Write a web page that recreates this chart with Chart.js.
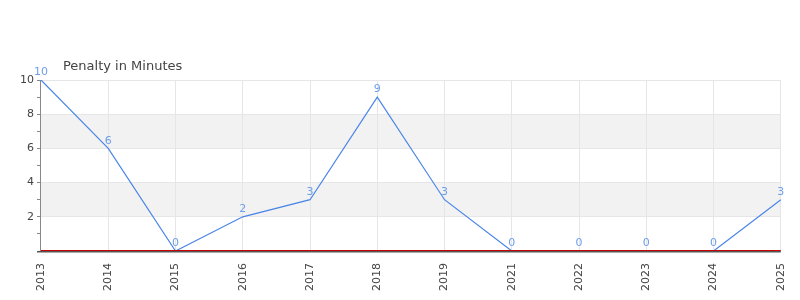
<!DOCTYPE html>
<html><head><meta charset="utf-8">
<script src="https://cdn.jsdelivr.net/npm/chart.js@4/dist/chart.umd.min.js"></script>
<style>html,body{margin:0;padding:0;background:#fff}#wrap{width:800px;height:300px}</style>
</head><body><div id="wrap"><canvas id="c" width="800" height="300"></canvas></div>
<script>
const categories = ["2013","2014","2015","2016","2017","2018","2019","2021","2022","2023","2024","2025"];
const penaltyMinutes = [10,6,0,2,3,9,3,0,0,0,0,3];
const yTickLabels = [2,4,6,8,10];
const bands = [[2,4],[6,8]];
const titleText = "Penalty in Minutes";

const FONT = "'DejaVu Sans', sans-serif";

const bgPlugin = {
  id: 'bg',
  beforeDraw(chart) {
    const {ctx, chartArea: a, scales: {y}} = chart;
    ctx.save();
    ctx.fillStyle = '#f2f2f2';
    bands.forEach(([lo, hi]) => {
      const y1 = y.getPixelForValue(hi), y2 = y.getPixelForValue(lo);
      ctx.fillRect(a.left, y1, a.right - a.left, y2 - y1);
    });
    ctx.restore();
  },
  afterDatasetsDraw(chart) {
    const {ctx, chartArea: a, scales: {y}} = chart;
    ctx.save();
    const y0 = Math.round(y.getPixelForValue(0));
    ctx.fillStyle = '#cc0000';
    ctx.fillRect(a.left, y0 - 1, a.right - a.left, 1);
    ctx.fillStyle = '#555';
    ctx.fillRect(a.left - 4, y0, a.right - a.left + 4, 1.5);
    // data labels
    const meta = chart.getDatasetMeta(0);
    ctx.fillStyle = '#6d9eeb';
    ctx.font = "11px " + FONT;
    ctx.textAlign = 'center';
    ctx.textBaseline = 'bottom';
    meta.data.forEach((pt, i) => {
      ctx.fillText(String(penaltyMinutes[i]), pt.x, pt.y - 2);
    });
    // title
    ctx.fillStyle = '#444';
    ctx.font = "13px " + FONT;
    ctx.textAlign = 'left';
    ctx.textBaseline = 'middle';
    ctx.fillText(titleText, a.left + 22, a.top - 13);
    ctx.restore();
  }
};

new Chart(document.getElementById('c'), {
  type: 'line',
  data: {
    labels: categories,
    datasets: [{
      data: penaltyMinutes,
      borderColor: '#4a86e8',
      borderWidth: 1.2,
      pointRadius: 0,
      tension: 0,
      fill: false
    }]
  },
  options: {
    responsive: false,
    animation: false,
    layout: { padding: { top: 80, right: 16, left: 17, bottom: 3 } },
    plugins: { legend: { display: false }, tooltip: { enabled: false }, title: { display: false } },
    scales: {
      x: {
        offset: false,
        grid: { color: '#e6e6e6', drawTicks: true, tickLength: 6, tickColor: 'rgba(0,0,0,0)' },
        border: { display: false },
        ticks: { color: '#444', font: { size: 11, family: FONT }, minRotation: 90, maxRotation: 90, autoSkip: false, padding: 6 }
      },
      y: {
        min: 0, max: 10,
        grid: {
          color: ctx => (ctx.tick && ctx.tick.value % 2 === 0 && ctx.tick.value !== 0) ? '#e6e6e6' : 'rgba(0,0,0,0)',
          tickColor: '#888',
          tickLength: 4
        },
        border: { color: '#888', width: 1 },
        ticks: {
          stepSize: 1,
          color: '#444',
          font: { size: 11, family: FONT },
          padding: 3,
          callback: v => yTickLabels.includes(v) ? String(v) : ''
        }
      }
    }
  },
  plugins: [bgPlugin]
});
</script></body></html>
